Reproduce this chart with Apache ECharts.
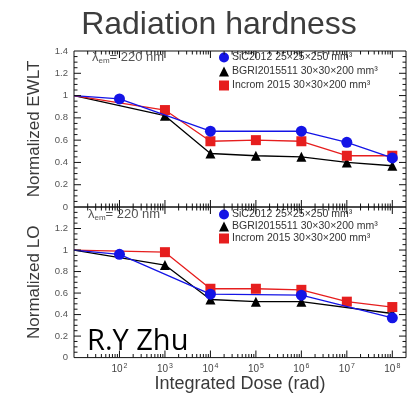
<!DOCTYPE html>
<html>
<head>
<meta charset="utf-8">
<script src="https://cdn.jsdelivr.net/npm/echarts@6/dist/echarts.min.js"></script>
<style>
  html, body { margin: 0; padding: 0; background: #fff; }
  #chart { width: 409px; height: 394px; }
</style>
</head>
<body>
<div id="chart"></div>
<script>
// Integrated dose steps (rad); the first entry is the unirradiated reference at the left edge
const doses = [10, 1e2, 1e3, 1e4, 1e5, 1e6, 1e7, 1e8];
const crystalNames = [
  'SiC2012 25×25×250 mm³',
  'BGRI2015511 30×30×200 mm³',
  'Incrom 2015 30×30×200 mm³'
];

// Normalized EWLT (null = not measured at that dose)
const ewltSiC    = [1.0, 0.97, null, 0.68, null, 0.68, 0.58, 0.44];
const ewltBGRI   = [1.0, null, 0.82, 0.48, 0.46, 0.45, 0.40, 0.37];
const ewltIncrom = [1.0, null, 0.87, 0.59, 0.60, 0.59, 0.46, 0.46];

// Normalized light output
const loSiC    = [1.0, 0.96, null, 0.59, null, 0.58, null, 0.37];
const loBGRI   = [1.0, null, 0.86, 0.54, 0.52, 0.52, null, 0.41];
const loIncrom = [1.0, null, 0.98, 0.64, 0.64, 0.63, 0.52, 0.47];

// Decade exponents that carry a "10^n" label
const decadeExponents = [2, 3, 4, 5, 6, 7, 8];

const doseMin = 10;
const doseMax = 2e8;
const yMin = 0;
const yMax = 1.4;
const logMin = Math.log10(doseMin);
const logMax = Math.log10(doseMax);

const colors = { sic: '#1414e6', bgri: '#000000', incrom: '#e61e1e' };
const FONT = 'Liberation Sans, Arial, sans-serif';
const AXIS_COLOR = '#111';
const MAJOR = 7;
const MINOR = 3.5;

// Tick marks on the four sides of a panel, drawn as thin rectangles anchored on the frame
function frameTickItems() {
  const items = [];
  for (let n = 1; n <= 8; n++) {
    for (let k = 1; k <= 9; k++) {
      const d = k * Math.pow(10, n);
      if (d <= doseMin || d >= doseMax) continue;
      const len = k === 1 ? MAJOR : MINOR;
      items.push({ value: [d, yMin], symbolSize: [1, len], symbolOffset: [0, -len / 2] });
      items.push({ value: [d, yMax], symbolSize: [1, len], symbolOffset: [0, len / 2] });
    }
  }
  for (let i = 1; i < 28; i++) {
    const y = i * 0.05;
    const len = i % 4 === 0 ? MAJOR : MINOR;
    items.push({ value: [doseMin, y], symbolSize: [len, 1], symbolOffset: [len / 2, 0] });
    items.push({ value: [doseMax, y], symbolSize: [len, 1], symbolOffset: [-len / 2, 0] });
  }
  return items;
}

function tickSeries(xIdx, yIdx) {
  return {
    type: 'scatter', xAxisIndex: xIdx, yAxisIndex: yIdx, silent: true, clip: false, z: 5,
    symbol: 'rect', itemStyle: { color: AXIS_COLOR, opacity: 1 },
    emphasis: { disabled: true },
    data: frameTickItems(),
    animation: false
  };
}

function pairs(values) {
  const out = [];
  values.forEach((v, i) => {
    if (v === null) return;
    const item = { value: [doses[i], v] };
    if (i === 0) item.symbol = 'none';
    out.push(item);
  });
  return out;
}

function dataAxis(grid) {
  return {
    type: 'log', logBase: 10, gridIndex: grid, min: doseMin, max: doseMax,
    show: false, axisLine: { show: false, onZero: false },
    splitLine: { show: false }
  };
}

// Decade labels "10^n", placed on a log10-scaled axis spanning the same range
function labelAxis(grid) {
  return {
    type: 'value', gridIndex: grid, position: 'bottom', min: logMin, max: logMax,
    axisLine: { show: false, onZero: false },
    axisTick: { show: false },
    splitLine: { show: false },
    axisLabel: {
      show: true, customValues: decadeExponents, margin: 5,
      formatter: v => '{b|10}{s|' + Math.round(v) + '}',
      rich: {
        b: { fontSize: 10, color: '#444', fontFamily: FONT },
        s: { fontSize: 7, color: '#444', fontFamily: FONT, verticalAlign: 'top', padding: [0, 0, 6, 1] }
      }
    },
    name: 'Integrated Dose (rad)',
    nameLocation: 'middle',
    nameGap: 17,
    nameTextStyle: { fontSize: 18, color: '#3a3a3a', fontFamily: FONT }
  };
}

function valueAxis(grid, name) {
  return {
    type: 'value', gridIndex: grid, position: 'left', min: yMin, max: yMax, interval: 0.2,
    axisLine: { show: false, onZero: false },
    axisTick: { show: false },
    splitLine: { show: false },
    axisLabel: {
      show: true, fontSize: 9.5, color: '#555', fontFamily: FONT, margin: 6,
      showMaxLabel: grid === 0
    },
    name, nameLocation: 'middle', nameGap: 31,
    nameTextStyle: { fontSize: 17, color: '#3a3a3a', fontFamily: FONT }
  };
}

function line(name, values, color, symbol, size, xIdx, yIdx, z) {
  return {
    name, type: 'line', xAxisIndex: xIdx, yAxisIndex: yIdx, z,
    data: pairs(values), symbol, symbolSize: size,
    lineStyle: { color, width: 1.3 },
    itemStyle: { color },
    animation: false
  };
}

function legendFor(top, gap) {
  return {
    orient: 'vertical', left: 214, top, itemWidth: 10, itemHeight: 10, itemGap: gap,
    textStyle: { fontSize: 10.5, color: '#333', fontFamily: FONT, padding: [0, 0, 0, -2] },
    selectedMode: false,
    data: [
      { name: crystalNames[0], icon: 'circle' },
      { name: crystalNames[1], icon: 'triangle' },
      { name: crystalNames[2], icon: 'rect' }
    ]
  };
}

function lambdaLabel(x, y) {
  return {
    type: 'text', x, y, z: 10,
    style: {
      text: '{l|λ}{sub|em}{t|= 220 nm}',
      verticalAlign: 'middle',
      rich: {
        l: { fontSize: 13, fill: '#555', fontFamily: FONT },
        sub: { fontSize: 8, fill: '#555', fontFamily: FONT, padding: [7, 0, 0, 0] },
        t: { fontSize: 13, fill: '#555', fontFamily: FONT }
      }
    }
  };
}

const chart = echarts.init(document.getElementById('chart'), null, { renderer: 'canvas' });

chart.setOption({
  animation: false,
  grid: [
    { left: 74, right: 3, top: 51, height: 156, show: true, borderColor: AXIS_COLOR, borderWidth: 1, backgroundColor: 'transparent' },
    { left: 74, right: 3, top: 207, height: 156, show: true, borderColor: AXIS_COLOR, borderWidth: 1, backgroundColor: 'transparent' }
  ],
  xAxis: [dataAxis(0), dataAxis(1), labelAxis(1)],
  yAxis: [valueAxis(0, 'Normalized EWLT'), valueAxis(1, 'Normalized LO')],
  legend: [legendFor(47, 3), legendFor(204, 1)],
  series: [
    tickSeries(0, 0),
    tickSeries(1, 1),
    line(crystalNames[1], ewltBGRI, colors.bgri, 'triangle', 10, 0, 0, 2),
    line(crystalNames[2], ewltIncrom, colors.incrom, 'rect', 10, 0, 0, 3),
    line(crystalNames[0], ewltSiC, colors.sic, 'circle', 11, 0, 0, 4),
    line(crystalNames[1], loBGRI, colors.bgri, 'triangle', 10, 1, 1, 2),
    line(crystalNames[2], loIncrom, colors.incrom, 'rect', 10, 1, 1, 3),
    line(crystalNames[0], loSiC, colors.sic, 'circle', 11, 1, 1, 4)
  ],
  graphic: [
    {
      type: 'text', x: 219, y: 25, z: 10,
      style: { text: 'Radiation hardness', font: '32px ' + FONT, fill: '#3d3d3d',
               align: 'center', verticalAlign: 'middle' }
    },
    lambdaLabel(92, 57),
    lambdaLabel(88, 214),
    {
      type: 'text', x: 87, y: 342, z: 10,
      style: { text: 'R.Y Zhu', font: '29px Open Sans, sans-serif', fill: '#000',
               verticalAlign: 'middle' }
    }
  ]
});
</script>
</body>
</html>
